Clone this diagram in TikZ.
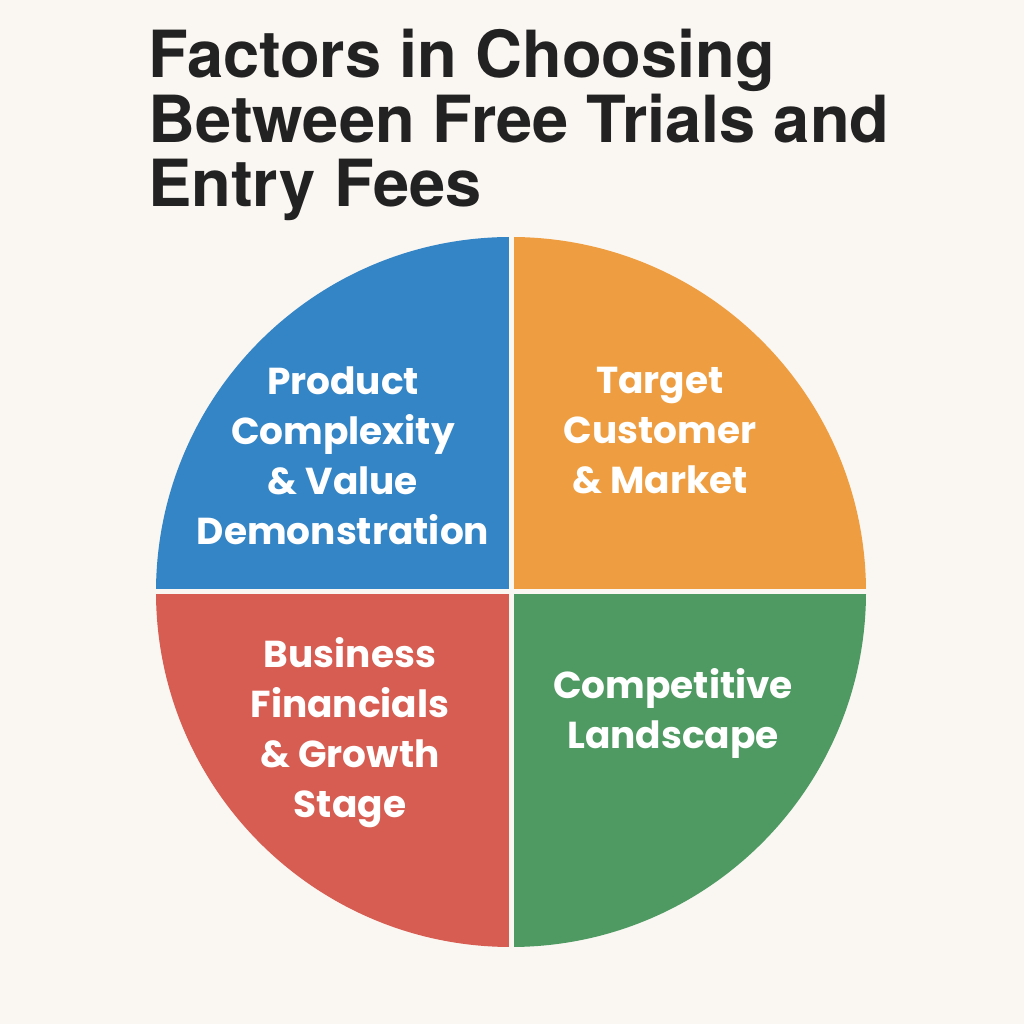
\documentclass[tikz,border=0pt]{standalone}
\usepackage{fontspec}
\newfontfamily\titlefont{TeX Gyre Heros}
\newfontfamily\labfont{Poppins}
\definecolor{bg}{HTML}{FAF7F3}
\definecolor{cblue}{HTML}{3385C6}
\definecolor{corange}{HTML}{EE9E40}
\definecolor{cred}{HTML}{D75C51}
\definecolor{cgreen}{HTML}{4E9A62}
\definecolor{ink}{HTML}{222222}
\begin{document}
\begin{tikzpicture}[x=1pt,y=1pt,
  titleline/.style={anchor=base west,inner sep=0pt,text=ink,font=\titlefont\bfseries\fontsize{65}{65}\selectfont},
  quadlabel/.style={align=center,text=white,inner sep=0pt,font=\labfont\bfseries\fontsize{37.5}{50}\selectfont},
  gapline/.style={draw=bg,line width=5pt}]
\fill[bg] (0,0) rectangle (1024,1024);
\useasboundingbox (0,0) rectangle (1024,1024);
\node[titleline] (t1) at (148,946) {Factors in Choosing};
\node[titleline] (t2) at (148,881) {Between Free Trials and};
\node[titleline] (t3) at (148,817) {Entry Fees};
\coordinate (c) at (511,432);
\fill[cblue] (c) -- ++(180:355) arc (180:90:355) -- cycle;
\fill[corange] (c) -- ++(90:355) arc (90:0:355) -- cycle;
\fill[cgreen] (c) -- ++(0:355) arc (0:-90:355) -- cycle;
\fill[cred] (c) -- ++(-90:355) arc (-90:-180:355) -- cycle;
\draw[gapline] ([yshift=360]c) -- ([yshift=-360]c);
\draw[gapline] ([xshift=-360]c) -- ([xshift=360]c);
\node[quadlabel] (lb) at (343,568) {Product\\Complexity\\\& Value\\Demonstration};
\node[quadlabel] (lo) at (660,593) {Target\\Customer\\\& Market};
\node[quadlabel] (lr) at (350,291) {Business\\Financials\\\& Growth\\Stage};
\node[quadlabel] (lg) at (673,311) {Competitive\\Landscape};
\end{tikzpicture}
\end{document}
